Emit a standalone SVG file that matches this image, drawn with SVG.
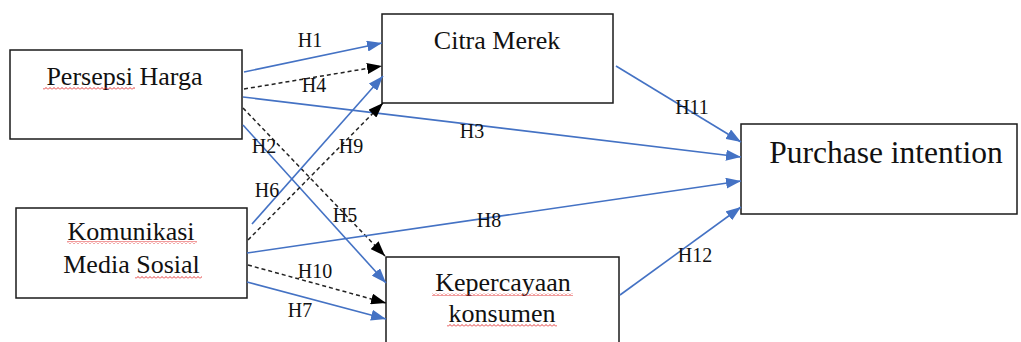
<svg xmlns="http://www.w3.org/2000/svg" width="1021" height="342" viewBox="0 0 1021 342">
<defs>
<style>
.box{fill:#fff;stroke:#1a1a1a;stroke-width:1.5}
.t{font-family:"Liberation Serif","Times New Roman",serif;font-size:26px;fill:#111;text-anchor:middle}
.big{font-size:31.5px}
.lbl{font-family:"Liberation Serif","Times New Roman",serif;font-size:20px;fill:#111;text-anchor:middle}
.b{stroke:#4472C4;stroke-width:1.6;fill:none;marker-end:url(#ab)}
.d{stroke:#222;stroke-width:1.5;fill:none;stroke-dasharray:4 3;marker-end:url(#ak)}
.sq{fill:url(#wave)}
</style>
<marker id="ab" viewBox="0 0 15 11" refX="15" refY="5.5" markerWidth="15" markerHeight="11" markerUnits="userSpaceOnUse" orient="auto"><path d="M0,0 L15,5.5 L0,11 z" fill="#4472C4"/></marker>
<marker id="ak" viewBox="0 0 15 11" refX="15" refY="5.5" markerWidth="15" markerHeight="11" markerUnits="userSpaceOnUse" orient="auto"><path d="M0,0 L15,5.5 L0,11 z" fill="#000"/></marker>
<pattern id="wave" width="4" height="3" patternUnits="userSpaceOnUse"><path d="M0,2.5 L2,0.5 L4,2.5" fill="none" stroke="#e02020" stroke-width="0.9"/></pattern>
</defs>
<rect width="1021" height="342" fill="#fff"/>
<g id="node-persepsi">
<rect class="box" x="10" y="50" width="232" height="89"/>
<text class="t" x="124.5" y="85">Persepsi Harga</text>
<rect class="sq" x="43" y="87" width="92" height="3"/>
</g>
<g id="node-citra">
<rect class="box" x="382" y="14" width="231" height="89"/>
<text class="t" x="497" y="49">Citra Merek</text>
</g>
<g id="node-komunikasi">
<rect class="box" x="16" y="208" width="231" height="90"/>
<text class="t" x="131" y="240">Komunikasi</text>
<text class="t" x="131.5" y="273">Media Sosial</text>
<rect class="sq" x="67" y="241" width="130" height="3"/>
<rect class="sq" x="135" y="276" width="67" height="3"/>
</g>
<g id="node-kepercayaan">
<rect class="box" x="386" y="257" width="233" height="95"/>
<text class="t" x="503" y="291">Kepercayaan</text>
<text class="t" x="502" y="322">konsumen</text>
<rect class="sq" x="432" y="293" width="141" height="3"/>
<rect class="sq" x="447" y="324" width="110" height="3"/>
</g>
<g id="node-purchase">
<rect class="box" x="741" y="124" width="276" height="90"/>
<text class="t big" x="886" y="163">Purchase intention</text>
</g>
<g id="connectors">
<line class="b" x1="244" y1="72" x2="382" y2="43"/>
<line class="d" x1="244" y1="89" x2="382" y2="66"/>
<line class="b" x1="243" y1="97" x2="741" y2="157"/>
<line class="b" x1="243" y1="125" x2="386" y2="283"/>
<line class="d" x1="243" y1="108" x2="385" y2="256"/>
<line class="b" x1="252" y1="224" x2="383" y2="76"/>
<line class="d" x1="248" y1="240" x2="383" y2="103"/>
<line class="b" x1="247" y1="253" x2="741" y2="181"/>
<line class="d" x1="248" y1="265" x2="386" y2="303"/>
<line class="b" x1="247" y1="282" x2="386" y2="319"/>
<line class="b" x1="616" y1="66" x2="741" y2="142"/>
<line class="b" x1="620" y1="295" x2="741" y2="207"/>
</g>
<g id="labels">
<text class="lbl" x="310" y="47">H1</text>
<text class="lbl" x="314" y="92">H4</text>
<text class="lbl" x="264" y="153">H2</text>
<text class="lbl" x="351" y="153">H9</text>
<text class="lbl" x="472" y="138">H3</text>
<text class="lbl" x="692" y="114">H11</text>
<text class="lbl" x="267" y="197">H6</text>
<text class="lbl" x="345" y="222">H5</text>
<text class="lbl" x="489" y="227">H8</text>
<text class="lbl" x="315" y="278">H10</text>
<text class="lbl" x="300" y="317">H7</text>
<text class="lbl" x="695" y="262">H12</text>
</g>
</svg>
